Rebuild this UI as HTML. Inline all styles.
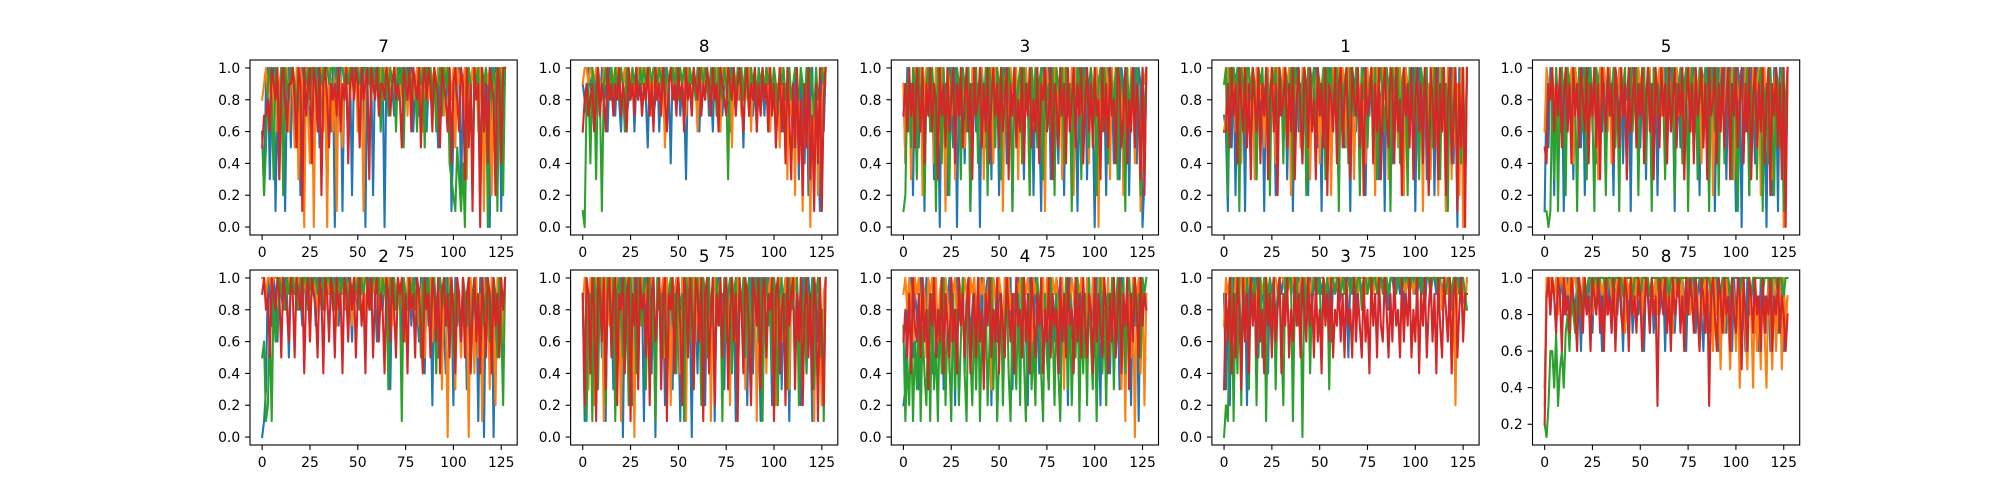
<!DOCTYPE html>
<html><head><meta charset="utf-8"><style>
html,body{margin:0;padding:0;background:#fff;}
svg{display:block;font-family:"DejaVu Sans","Liberation Sans",sans-serif;}
</style></head><body>
<svg id="fig" width="2000" height="500" viewBox="0 0 2000 500" xmlns="http://www.w3.org/2000/svg"></svg>
<script>
const titles = ['7','8','3','1','5','2','5','4','3','8'];
const xTicks = [0,25,50,75,100,125];
const yTicks = [0,0.2,0.4,0.6,0.8,1.0];
const colorNames = ['blue','orange','green','red'];

const p0_blue=[.6,.2,.9,1,.3,.9,1,.1,.8,.3,1,.9,.1,.9,1,.5,1,.9,.8,1,.2,1,.9,1,.8,.6,1,1,.9,1,.5,1,.9,.9,.1,1,.6,1,0,1,.7,1,.1,1,.9,.5,1,.2,1,.9,.8,1,.9,1,0,1,.9,1,.2,1,.9,1,.7,1,0,1,.8,1,.9,.7,1,.8,1,.9,1,.8,1,.9,1,.6,.9,1,.7,1,.9,1,.6,.9,1,.8,1,.9,.5,1,.9,1,.8,1,.9,.1,.6,1,.9,1,.2,.9,1,.8,1,.9,.3,1,.9,1,.2,1,.8,1,.9,0,1,.7,1,.9,1,.1,1,.9];
const p0_orange=[.8,.9,1,.8,.9,1,.7,1,.6,.9,1,.5,.9,1,.6,1,.9,.5,1,.3,1,.9,0,1,.7,.4,1,0,1,.8,.9,1,.6,1,0,1,.9,.6,1,.1,1,.9,.5,1,.9,1,.8,1,.9,1,.6,1,.9,.1,1,.9,1,.8,1,.9,1,.9,1,.8,1,.9,1,.8,.9,1,1,.9,.8,1,.9,1,.7,1,.9,1,.8,1,.9,1,.6,1,.9,.8,1,.9,1,.8,1,.9,1,.7,1,.9,1,.8,1,.5,1,.9,1,.8,1,.3,1,.9,1,.8,1,.6,1,.9,.1,1,.9,1,.2,1,.9,1,.8,1,.9,1];
const p0_green=[.6,.2,.5,.9,1,.8,.3,1,.9,.6,1,.2,1,.9,.8,1,1,.9,.7,1,.9,.3,1,.9,1,.8,1,.9,1,.7,1,.9,1,1,1,.9,1,1,1,.9,1,1,1,.9,1,.9,1,1,.9,1,1,.9,1,1,1,.9,1,.8,1,.9,1,1,.6,1,.9,1,.7,1,.9,1,.6,1,.9,1,.5,1,.9,1,.8,1,.9,.6,1,.9,1,.5,1,.9,1,.8,1,.6,.9,1,.7,1,.9,1,.4,.3,.2,.1,.5,.3,.1,.4,0,.7,1,.9,.2,1,.9,1,.1,1,.9,1,0,1,.8,1,.9,.1,1,.9,.2,1];
const p0_red=[.5,.7,.7,.8,.6,1,.9,.8,1,.3,.9,1,.8,.6,.9,.9,1,.8,.5,1,.9,.1,1,.7,.9,1,.4,1,.9,.6,1,.2,.9,1,.8,.5,.9,.8,.9,.7,1,.6,.9,.8,1,.4,.9,1,.8,1,.9,.5,1,.8,.9,1,.3,1,.9,.8,1,.7,.9,.9,.8,1,.9,.7,.9,1,.8,.9,.8,.5,1,.9,.8,1,.6,1,.9,.8,1,.5,.9,1,.8,1,.9,.6,1,.9,.8,.5,1,.9,.8,.6,1,.4,.9,1,.8,.6,1,.9,.3,1,.5,.9,.1,1,.8,.9,0,1,.6,.9,.4,1,.9,.8,.2,1,.9,.4,1,1];

const p1_blue=[.9,.8,.7,1,.9,.8,.6,1,.9,.7,1,.8,.9,.6,1,.8,.9,.7,1,.8,.6,.9,1,.7,.8,.9,1,.6,.9,.8,1,.7,.9,.8,.5,1,.9,.7,.8,1,.6,.9,.8,1,.7,.9,.4,1,.8,.9,1,.7,.9,.8,.3,1,.9,.7,1,.8,.9,.6,1,.9,.8,1,.7,.9,.6,1,.8,.9,1,.7,.9,1,.8,.6,1,.9,.7,1,.8,.9,.5,1,.9,.8,1,.7,.9,.6,1,.8,.9,.7,1,.6,.9,.8,1,.5,.9,.8,1,.6,.9,.4,1,.8,.5,1,.9,.3,1,.7,.4,1,.2,.8,1,.3,.9,.5,.1,1,.6,1];
const p1_orange=[.9,1,1,.9,1,1,.9,1,1,.9,.8,1,.9,1,.8,1,.9,1,1,.8,1,.9,1,.7,1,.9,1,.8,1,1,.9,1,.8,1,.9,1,.7,1,.9,1,.8,1,.9,.5,1,.9,1,.8,1,.9,1,.8,.9,1,.7,1,.9,.8,1,.9,.6,1,.9,1,.8,1,.9,.7,1,.9,1,.8,.6,1,.9,1,.8,1,.5,1,.9,.8,1,.7,.9,1,.8,1,.6,.9,1,.8,.9,.7,1,.9,.8,1,.6,.9,1,.7,.9,.5,1,.8,.9,.3,1,.7,.9,.2,1,.6,.8,.1,.9,.5,1,0,.8,.4,1,.2,.9,.6,1,.9];
const p1_green=[.1,0,.8,.9,.4,1,.9,.3,1,.8,.1,.9,1,.8,.9,1,.8,1,.9,.8,1,.9,.6,1,.9,.8,1,.9,1,.8,1,.9,1,.9,1,1,.9,1,1,.9,1,.9,1,.8,1,.9,1,1,.9,1,.8,1,.9,1,.9,.8,1,.9,1,.8,1,.9,1,.9,1,.9,.8,1,.9,1,.7,1,.9,.8,1,.9,.3,1,.9,1,.8,1,.9,1,.8,1,.9,.7,1,.9,1,.8,1,.9,1,.8,1,.9,1,.8,1,.9,.7,1,.9,1,.8,.9,1,.8,.9,1,.9,.8,1,.9,.7,1,.8,1,.9,.7,1,.8,.9,1,.9,1];
const p1_red=[.6,.8,.9,.7,.8,.9,.6,.8,1,.7,.9,.8,.6,1,.8,.9,.7,.9,.8,1,.7,.9,.8,.6,1,.8,.9,.7,1,.8,.9,.7,.9,.8,1,.7,.9,.6,1,.8,.9,.7,1,.8,.6,.9,1,.8,.9,.7,1,.8,.9,.6,1,.8,.9,.7,1,.9,.8,1,.7,.9,.8,1,.9,.7,1,.8,.9,.6,1,.9,.8,.7,1,.9,.8,1,.7,.9,1,.8,.6,.9,1,.7,.9,.8,1,.6,.9,.7,1,.8,.9,.6,1,.7,.9,.5,.8,1,.6,.9,.4,1,.7,.3,.9,.5,1,.4,.8,.2,.9,.5,1,.3,.7,.1,.9,.4,1,.1,.8,1];

const p2_blue=[.9,.4,1,.6,.9,.2,1,.8,.5,1,.9,.1,.9,1,.6,.9,.3,1,.8,0,1,.7,.9,.2,1,.8,.5,1,0,.9,.7,1,.4,.9,1,.1,.8,1,.6,.9,0,1,.8,.5,1,.9,.3,1,.7,1,.2,.9,.8,1,.4,1,.9,.1,1,.8,.6,1,.9,.3,1,.8,.5,1,.2,.9,1,.7,.1,1,.9,.6,1,.3,.9,1,.8,.4,1,.9,.2,1,.7,.9,.5,1,.8,.1,1,.9,.6,1,.3,.9,1,.7,0,1,.8,.5,1,.9,.2,1,.7,.9,.4,1,.8,.3,1,.9,.6,1,.2,.9,.8,1,.4,1,.9,0,.3,1];
const p2_orange=[.9,.4,.8,1,.3,.9,1,.5,.9,1,.2,.9,1,.7,.9,1,.4,1,.9,.6,1,.8,.1,1,.9,.7,1,.3,1,.9,.8,1,.5,1,.9,.2,1,.8,1,.6,.9,1,.3,.9,1,.8,1,.4,1,.9,.7,1,.1,.9,1,.5,1,.9,.8,1,.3,1,.9,.6,1,.8,.2,1,.9,.7,1,.4,1,.9,.1,1,.8,.9,.5,1,.9,.7,1,.3,1,.8,.9,.6,1,.2,1,.9,.8,1,.5,.9,1,.4,1,.9,.7,1,0,1,.8,.6,1,.9,.3,1,.8,1,.5,1,.9,.2,1,.8,.7,1,.9,.4,1,.8,.1,1,.9,1];
const p2_green=[.1,.2,.9,1,.5,1,.9,.3,1,.7,1,.2,.9,1,.6,1,.8,.1,1,.9,.4,1,.7,.9,.2,1,.8,.5,1,.9,.3,1,.9,.6,1,.1,.9,.8,1,.4,1,.9,.7,1,.2,1,.8,.9,.5,1,.9,.3,1,.8,.6,1,.9,.1,1,.7,.9,1,.4,1,.8,.9,.2,1,.7,1,.5,.9,1,.3,1,.8,.9,.6,1,.2,1,.9,.7,1,.4,1,.8,.9,.1,1,.6,1,.9,.3,1,.8,.9,.5,1,.7,1,.2,.9,1,.6,1,.8,.4,1,.9,.7,1,.3,1,.9,.8,.1,1,.7,.9,1,.5,1,.8,.2,1,.6,1];
const p2_red=[.7,.9,.6,1,.7,.9,.5,1,.8,.6,1,.4,.9,.7,1,.6,.9,.8,.3,1,.7,.9,.5,1,.6,.8,1,.4,.9,.7,1,.5,.8,1,.6,.9,.3,1,.7,.8,1,.5,.9,.6,1,.4,.8,1,.7,.9,.5,1,.6,.8,1,.3,.9,.7,1,.5,.8,.6,1,.4,.9,.7,1,.5,.8,.6,1,.4,.9,.8,1,.6,.7,1,.3,.9,.8,.5,1,.7,.9,.4,1,.6,.8,1,.5,.9,.7,1,.4,.8,1,.6,.9,.5,1,.7,.8,.3,1,.6,.9,.5,1,.7,.8,.4,1,.9,.5,.7,1,.4,.8,.6,1,.5,.9,.7,.3,1,.2,1];

const p3_blue=[.7,.6,.1,.9,.5,1,.2,.9,1,.6,.9,.1,1,.8,.4,1,.9,.3,1,.7,.9,.1,1,.8,.6,1,.9,.2,1,.7,.9,.5,1,.3,.9,1,.1,.8,1,.6,.9,.4,1,.8,.2,1,.9,.7,1,.5,.9,.1,1,.8,.6,1,.3,.9,1,.7,.2,1,.9,.5,1,.8,.1,1,.9,.6,1,.4,.8,1,.2,.9,.7,1,.5,.9,1,.3,.8,.9,.1,1,.7,.9,.4,1,.8,.6,1,.2,.9,1,.5,.9,.8,1,.1,.9,1,.6,.8,1,.3,.9,.7,1,.2,.9,1,.5,.8,1,.1,.9,.7,1,.4,.9,0,1,.8,.3,.2,1];
const p3_orange=[.6,.7,1,.8,1,.9,.6,1,.9,.4,1,.8,1,.6,.9,1,.3,1,.9,.8,1,.5,.9,1,.7,.9,1,.4,1,.9,.8,1,.6,.9,1,.2,1,.8,.9,1,.5,1,.9,.7,1,.3,.9,1,.8,1,.4,.9,1,.7,1,.9,.2,1,.8,.9,1,.6,1,.9,.5,1,.8,1,.3,.9,1,.7,1,.9,.4,1,.8,.9,1,.2,1,.9,.6,1,.8,.9,.3,1,.7,1,.9,.5,1,.8,.2,1,.9,.7,1,.4,.9,1,.6,.9,.1,1,.8,.9,.3,1,.7,.9,.2,1,.6,.8,.1,1,.9,.3,1,.5,.9,.2,1,0,.6,1];
const p3_green=[.9,1,.2,1,.8,1,.9,1,.1,1,.9,.6,1,1,.8,1,.9,.3,1,.9,1,.7,1,.9,.2,1,.9,1,.6,1,.9,.4,1,.9,.8,1,.3,1,.9,1,.6,.9,1,.2,1,.8,.9,1,.5,1,.9,.7,1,.3,1,.9,1,.6,.9,1,.1,1,.8,.9,1,.4,1,.9,.7,1,.9,.2,1,.8,1,.5,.9,1,.7,1,.3,.9,1,.8,.6,1,.9,.1,1,.9,.7,1,.4,.9,1,.8,.2,1,.9,.6,1,.8,.3,1,.9,.7,1,.2,.9,.5,1,.8,.9,.3,1,.7,.9,.1,1,.8,.6,1,.2,.9,.4,1,.3,1];
const p3_red=[.6,.6,.9,.5,1,.7,.9,.4,1,.8,.6,1,.5,.9,.3,1,.8,.6,1,.4,.9,.7,1,.3,.8,1,.6,.9,.2,1,.7,.8,1,.5,.9,.6,1,.3,.8,1,.7,.4,1,.9,.5,1,.6,.8,.3,1,.7,.9,.5,1,.2,.9,.8,.6,1,.4,.9,1,.5,.8,1,.6,.3,1,.8,.7,1,.5,.9,.2,1,.7,.8,1,.4,.9,.6,1,.3,.8,1,.7,.5,1,.9,.4,1,.6,.8,.2,1,.7,.9,.5,1,.3,.8,1,.6,.9,.4,1,.7,.2,1,.8,.5,1,.3,.9,.6,1,.2,.8,1,.4,.7,1,.1,.9,.5,1,0,1];

const p4_blue=[.1,.9,.5,1,.9,.2,1,.8,.6,1,.1,.9,1,.7,.9,.3,1,.8,.9,.5,1,.2,.9,1,.7,.8,1,.4,.9,1,.6,1,.3,.9,1,.8,.2,1,.9,.6,1,.4,.9,.8,1,.1,1,.9,.7,1,.5,.9,1,.3,1,.8,.9,.6,1,.2,.9,1,.7,1,.4,.9,1,.8,.1,1,.9,.5,1,.7,.9,.3,1,.8,1,.6,.9,.2,1,.9,.7,1,.4,.9,1,.1,.8,1,.6,.9,1,.3,.9,1,.5,.8,.1,1,.9,0,1,.6,.9,.2,1,.8,.4,1,.9,.3,1,.7,0,1,.8,.2,1,.9,.1,1,.6,.3,.2,1];
const p4_orange=[.6,1,.9,.8,1,.7,1,.5,.9,1,.8,1,.6,.9,1,.4,1,.9,.7,1,.8,1,.5,.9,1,.6,1,.9,.3,1,.8,1,.9,.6,1,.4,1,.9,.8,1,.7,.9,1,.3,1,.8,.9,1,.5,1,.9,.8,1,.6,.9,1,.2,1,.8,.9,1,.7,1,.4,.9,1,.8,.9,.5,1,.7,1,.9,.3,1,.8,1,.6,.9,1,.8,1,.4,.9,1,.7,.9,1,.2,1,.8,.6,1,.9,.5,1,.9,.7,1,.3,1,.8,.9,1,.5,1,.7,.9,.4,1,.8,.9,1,.2,.9,1,.6,.8,1,.3,.9,1,.5,.8,1,0,.3,1];
const p4_green=[.1,.1,0,.1,.9,.3,1,.1,.9,1,.8,.2,1,.9,.5,1,.8,.1,1,.9,.6,1,.3,.9,1,.7,.1,1,.9,.4,1,.8,.2,1,.9,.7,1,.5,.9,.1,1,.8,1,.3,.9,1,.6,.9,1,.2,.9,.8,1,.4,1,.9,.1,1,.7,.9,.5,1,.8,.3,1,.9,.6,1,.2,.9,.8,1,.4,.9,1,.1,.8,1,.7,.9,.3,1,.9,.5,1,.8,.1,1,.9,.6,1,.2,.9,1,.4,.8,1,.9,.3,1,.7,.1,.9,1,.5,.8,1,.2,.9,.6,1,.3,.9,1,.1,.8,.9,.4,1,.7,.2,1,.9,.5,1,.1,.8,1];
const p4_red=[.5,.4,.9,.8,1,.6,.9,.7,1,.5,.8,1,.6,.9,.4,1,.7,.9,.5,1,.8,.6,1,.4,.9,.7,1,.5,.9,.3,1,.8,.6,1,.7,.9,.4,1,.8,.5,1,.7,.9,.3,1,.6,.8,1,.5,.9,.7,1,.4,.8,1,.6,.9,.3,1,.8,.5,1,.7,.9,.4,1,.6,.8,1,.5,.9,.7,1,.3,.8,1,.6,.9,.4,1,.7,.8,1,.5,.9,.3,1,.7,.8,1,.4,.9,.6,1,.5,.8,1,.3,.9,.7,1,.5,.8,1,.4,.9,.6,1,.3,.8,1,.5,.9,.6,1,.4,.8,1,.2,.9,.7,1,.5,.9,.3,1,0,1];

const p5_blue=[0,.1,.3,1,.9,.7,1,.9,.6,1,.9,.8,1,.9,.5,1,.9,1,.8,1,.9,.7,1,.9,1,.8,.9,1,.7,1,.9,1,.8,1,.9,.9,1,.8,1,.9,.7,1,.9,1,.8,1,.9,.6,1,.9,.8,1,.9,1,.7,.9,1,.8,1,.9,.6,1,.9,.8,1,.9,.7,.3,1,.9,.8,1,.9,.6,1,.9,.8,1,.7,.9,1,.8,.6,1,.9,.4,1,.7,.9,.2,1,.8,.5,1,.9,.7,.4,1,.8,.9,.2,1,.7,.9,.5,1,.9,.3,1,.8,.6,1,.9,.1,1,.8,0,1,.9,.4,1,0,.8,.6,1,.9,.5,1];
const p5_orange=[1,1,.9,1,1,.9,1,1,1,.9,1,1,.8,1,1,.9,1,1,.9,1,.8,1,1,.9,1,.6,1,.9,1,.8,1,.9,1,.8,1,.9,1,1,.9,.7,1,.9,1,.8,1,.9,1,.7,.9,1,.8,1,.9,1,.7,1,.9,.8,1,.9,1,.8,1,.9,1,.8,1,.9,.7,1,.9,1,.8,1,.9,.6,1,.9,1,.8,.9,1,.7,.9,1,.5,.9,.8,1,.6,1,.4,.9,1,.3,1,.9,0,1,.7,.9,.3,1,.8,.5,1,.6,.9,0,1,.8,.4,1,.5,.9,.1,1,.7,.9,.3,1,.8,.2,1,.7,.9,.6,1];
const p5_green=[.5,.6,.1,.2,.7,.1,.9,.6,.7,1,.9,1,.8,1,.9,1,1,.9,1,.8,1,.9,1,1,.8,1,.9,1,1,.9,1,.8,1,.9,1,1,.9,1,.8,1,1,.9,1,.9,1,.8,1,.9,1,.9,1,.8,1,.9,1,1,.9,.8,1,1,.9,1,.8,1,.9,1,.3,1,.9,1,.8,1,.9,.1,1,.9,.8,1,.9,1,.8,1,.9,.5,1,.8,.9,1,.7,.9,1,.4,.9,1,.8,.9,1,.7,.9,1,.5,.9,1,.8,.6,1,.9,.7,1,.4,.9,1,.8,.9,.5,1,.7,.9,1,.6,.8,1,.9,.5,1,.7,.2,1];
const p5_red=[.9,1,.8,.9,.5,1,.9,.8,1,.9,.5,1,.9,.8,.6,1,.9,.5,1,.9,.8,1,.4,.9,1,.6,1,.9,.8,.5,1,.9,.4,1,.9,.6,1,.9,.5,1,.8,.9,.4,1,.9,.6,1,.8,1,.5,.9,1,.7,.9,.4,1,.8,1,.5,.9,1,.6,.9,.8,.4,1,.9,.6,1,.8,.5,1,.9,1,.6,.9,.4,1,.8,.9,.5,1,.9,.7,.4,1,.8,.9,.5,1,.9,.6,1,.4,.9,1,.7,.9,.5,1,.8,.4,1,.9,.6,1,.5,.9,1,.4,.8,1,.6,.9,.4,1,.8,.5,1,.9,.4,1,.7,.9,.5,1,.8,1];

const p6_blue=[.9,.1,1,.6,.9,.8,1,.2,.9,1,.5,.9,.1,1,.8,.9,.3,1,.9,.6,1,0,.9,1,.7,.9,.2,1,.8,.5,1,.9,.1,1,.8,.9,.4,1,0,.9,1,.6,.9,.2,1,.8,1,.3,.9,1,.7,.1,1,.9,.5,1,.8,0,1,.9,.4,1,.8,.9,.2,1,.9,.6,1,.1,.9,1,.7,.9,.3,1,.8,.5,1,.9,.1,1,.8,.9,.6,1,.2,.9,1,.4,.9,1,.7,.1,1,.9,.5,1,.8,.2,1,.9,.6,1,.3,.9,1,.8,.1,1,.9,.5,1,.7,.2,1,.9,.4,1,.8,.1,1,.9,.6,1,.3,.8,1];
const p6_orange=[.8,1,.9,.3,1,.9,.2,1,.8,.9,1,.1,1,.9,.7,1,.9,.4,1,.8,.1,1,.9,1,.6,.9,1,0,1,.9,.7,1,.8,.9,1,.3,1,.9,.1,1,.8,.9,1,.5,1,.9,.2,1,.8,1,.9,.4,1,.9,.1,1,.8,.9,1,.6,.9,1,.3,1,.9,.8,1,.1,.9,1,.7,.9,1,.4,1,.8,.9,.2,1,.9,.6,1,.9,.8,1,.3,.9,1,.5,.9,1,.1,1,.8,.9,1,.4,.9,1,.7,1,.2,.9,1,.6,.8,1,.9,.3,1,.8,1,.9,.5,1,.2,.9,1,.7,.8,1,.1,.9,1,.6,.2,.9,1];
const p6_green=[.9,.5,.1,.8,.9,.1,1,.9,.3,1,.7,.9,.2,1,.9,.6,1,.1,.9,1,.8,.5,1,.9,.2,1,.8,.9,.4,1,.9,.7,1,.3,.9,1,.6,.9,.1,1,.8,.9,.5,1,.2,.9,1,.7,.9,.4,1,.8,.9,.1,1,.9,.6,1,.3,.9,1,.8,.2,1,.9,.5,1,.7,.9,.3,1,.8,.9,.1,1,.6,.9,1,.4,.9,1,.2,.9,.8,1,.5,.9,1,.3,.8,1,.9,.6,1,.1,.9,1,.7,.9,.4,1,.8,.2,.9,1,.6,.9,.3,1,.8,.9,.5,1,.2,.9,.7,1,.4,.9,.8,1,.3,.9,1,.5,.8,.1,1];
const p6_red=[.9,.2,1,.9,.4,1,.8,.1,1,.9,.6,1,.3,.9,1,.5,.9,1,.2,.9,.8,1,.4,.9,1,.1,.9,.7,1,.3,1,.8,.9,.5,1,.2,.9,1,.6,.8,1,.3,.9,1,.1,.9,.8,1,.4,.9,1,.7,.2,1,.9,.5,1,.8,.3,1,.9,.6,1,.1,.9,1,.4,.8,1,.2,.9,.7,1,.5,.9,1,.3,.8,1,.6,.9,.1,1,.8,.4,1,.9,.6,.2,1,.9,.7,1,.3,.9,1,.5,.9,.8,1,.1,.9,1,.4,.8,.9,.2,1,.7,.9,1,.3,.9,.6,1,.2,.8,1,.5,.9,.3,1,.8,.1,1,.6,.2,1];

const p7_blue=[.2,.3,.9,.7,1,.5,.9,.8,.3,1,.9,.6,1,.7,.9,.4,1,.8,.5,.9,1,.3,.9,.8,1,.6,.9,.2,1,.8,.7,1,.4,.9,1,.6,.8,1,.3,.9,.7,1,.5,.9,1,.8,.2,1,.9,.6,1,.8,.4,1,.9,.7,1,.3,.9,.8,1,.5,.9,1,.7,.2,1,.9,.6,1,.8,.4,.9,1,.7,.9,.3,1,.8,.6,1,.9,.4,1,.7,.9,.2,1,.8,.6,1,.9,.5,1,.8,.9,.3,1,.7,.9,.5,1,.8,.2,1,.9,.6,1,.4,.9,1,.7,.9,.3,1,.8,.5,1,.9,.2,1,.7,.9,.1,1,.8,.9,.9];
const p7_orange=[.9,1,.8,1,.9,.6,1,.9,1,.7,1,.9,.5,1,.9,1,.8,1,.6,.9,1,.8,1,.9,.4,1,.9,1,.7,1,.9,.8,1,.9,.6,1,.9,1,.8,.5,1,.9,1,.7,.9,1,.3,1,.9,.8,1,.9,.6,1,.9,1,.8,.9,.5,1,.9,1,.7,1,.9,1,.8,.4,1,.9,1,.7,.9,1,.6,1,.9,.8,1,.9,1,.7,.9,1,.3,1,.9,.8,1,.9,.6,1,.9,1,.8,.5,1,.9,.7,1,.9,.4,1,.8,1,.9,.2,1,.7,.9,1,.6,.9,1,.3,.9,.1,1,.8,.5,1,0,.9,1,.4,1,.2,.9];
const p7_green=[.7,.1,.5,.2,.7,.1,.6,.3,.9,.1,.7,.4,.2,.8,.1,.9,.3,.6,.1,.8,.4,1,.2,.7,.5,.1,.9,.3,.8,.2,.6,1,.4,.1,.9,.5,.2,.8,.3,1,.1,.7,.4,.9,.2,.6,1,.3,.8,.1,.5,.9,.2,.7,1,.4,.1,.8,.6,.3,.9,.2,1,.5,.1,.7,.9,.3,.6,.2,1,.8,.4,.1,.9,.5,.3,1,.7,.2,.9,.4,.1,.8,.6,1,.3,.9,.2,.7,.5,1,.1,.8,.4,.9,.2,1,.6,.3,.9,.1,.7,1,.4,.8,.2,.9,.5,1,.3,.8,1,.6,.9,1,.4,.9,1,.8,.9,1,.7,.9,.5,1,.9,1];
const p7_red=[.6,.8,.5,.9,.4,1,.7,.6,.9,.5,1,.6,.8,.3,.9,.7,1,.5,.8,.6,1,.4,.9,.7,.5,1,.6,.8,.4,1,.7,.9,.5,.8,1,.4,.7,.9,.5,1,.6,.8,.3,.9,.7,1,.5,.8,.6,1,.4,.9,.7,.5,1,.8,.6,.9,.4,1,.7,.8,.5,1,.6,.9,.4,1,.8,.5,.9,.7,1,.4,.8,.6,1,.5,.9,.7,.8,.4,1,.6,.9,.5,1,.7,.8,.4,1,.6,.9,.5,1,.7,.5,.9,.8,.4,1,.6,.9,.7,.5,1,.8,.4,.9,.6,1,.5,.8,1,.4,.9,.7,1,.3,.9,.6,1,.8,.5,1,.7,.9,.8];

const p8_blue=[.9,.3,.8,.2,.9,1,.6,1,.9,.5,1,.9,.2,1,.8,1,.9,1,.5,1,.9,.8,1,.4,1,.9,1,.7,.9,1,.9,1,1,.9,1,.9,1,.8,1,1,.9,1,.7,1,.9,1,.8,1,.9,1,1,.9,1,.8,1,.9,.6,1,.9,1,.8,.9,1,1,.9,.5,1,.9,1,.8,1,1,.9,1,1,.9,1,1,.9,1,1,.9,1,1,.9,1,.8,1,1,.9,1,1,.9,1,.8,1,1,.9,1,1,.9,1,1,.9,1,.8,1,1,.9,1,1,.9,1,1,.9,1,1,.9,1,.8,1,1,.9,1,1,.9,.8,1];
const p8_orange=[.7,1,.9,1,1,.7,1,.9,1,1,.8,1,.9,1,1,.9,1,.8,1,1,.9,1,1,.9,1,.7,1,1,.9,1,1,1,.9,1,1,.9,1,1,1,.9,1,1,.9,1,1,.9,1,1,1,.9,1,1,1,.9,1,1,.9,1,1,1,.9,1,1,.9,1,1,.9,1,1,1,.9,1,1,1,.9,1,1,1,.9,1,1,.9,1,1,1,1,.9,1,1,1,.9,1,1,1,1,.9,1,1,1,.9,1,1,1,1,.9,1,1,1,.9,1,1,1,.9,1,.8,1,1,.9,1,.4,1,.2,1,.9,1,1,.8,1];
const p8_green=[0,.2,.1,.8,1,.1,.9,.4,1,.2,.9,.6,1,.3,1,.8,1,.2,.9,1,.5,1,.1,.9,1,.7,1,.3,.9,1,.6,.2,1,.9,1,1,.1,.9,1,.7,.9,0,1,.8,1,.4,.9,1,1,.9,1,.5,1,.9,1,.3,1,1,.9,1,1,.9,1,.9,1,1,.9,1,1,.9,1,1,.8,1,1,.9,1,.9,1,1,.9,1,1,.9,1,1,.9,1,1,1,.9,1,1,.9,1,1,1,.9,1,1,1,.9,1,1,.9,1,1,1,.9,1,1,1,.9,1,1,1,.9,1,1,.9,1,1,1,.9,1,1,.9,.8];
const p8_red=[.3,.9,.6,1,.4,.9,.5,1,.8,.3,1,.6,.9,.4,1,.7,.9,.5,1,.6,.8,.4,1,.7,.9,.5,1,.6,.8,1,.4,.9,.7,1,.5,.8,.6,1,.7,.9,.5,1,.8,.6,1,.7,.9,.5,1,.6,.8,.4,1,.7,.9,.6,1,.5,.8,.7,1,.6,.9,.5,1,.7,.8,.5,1,.6,.9,.7,.5,1,.6,.8,.4,1,.7,.9,.5,1,.7,.6,1,.8,.5,.9,.6,1,.7,.8,.5,1,.6,.9,.7,1,.5,.8,.6,1,.4,.9,.7,1,.5,.8,1,.6,.9,.4,1,.7,.5,1,.8,.6,1,.4,.9,1,.5,.8,1,.6,.9,.9];

const p9_blue=[.4,.9,1,.8,1,.9,.7,1,.9,1,.8,.9,1,.7,1,.9,.8,1,.9,.6,1,.9,.8,1,.9,.7,1,.8,1,.9,.6,1,.9,.8,1,.7,1,.9,.8,1,.9,.6,1,.9,.8,1,.7,.9,1,.8,.9,1,.6,1,.9,.8,1,.7,.9,1,.8,.9,1,.6,1,.9,.8,1,.7,.9,1,.8,1,.9,.6,1,.8,.9,1,.7,.9,1,.8,.6,1,.9,.7,1,.8,.9,1,.6,.9,1,.8,.7,1,.9,.6,1,.8,.9,1,.7,.9,.6,1,.8,.9,1,.7,.9,.6,1,.8,.9,.7,1,.6,.9,1,.8,.7,1,.9,.6,.8,.9];
const p9_orange=[.3,1,.9,1,1,.9,1,.8,1,1,.9,1,.9,1,.8,1,1,.9,1,.8,1,1,.9,1,1,.8,1,.9,1,1,.9,1,.8,1,1,.9,1,.8,1,1,.9,1,.7,1,.9,1,1,.8,1,.9,1,.8,1,1,.9,.7,1,.9,1,.8,1,.9,1,1,.8,1,.9,.7,1,.9,1,.8,1,.6,1,.9,.8,1,.7,1,.9,.6,1,.8,1,.7,.9,1,.6,1,.8,.9,.5,1,.7,1,.8,.5,1,.9,.6,1,.4,.9,1,.7,.5,1,.8,.4,1,.6,.9,.5,1,.7,.4,1,.8,.5,1,.6,.9,1,.5,1,.7,.9];
const p9_green=[.2,.13,.3,.6,.6,.4,.7,.3,.5,.6,.4,.7,.8,.6,.9,.8,.7,.9,1,.8,.9,1,.9,1,1,.9,1,1,.9,1,1,1,.9,1,1,1,.9,1,1,1,1,.9,1,1,1,1,.9,1,1,1,.9,1,1,1,1,.9,1,1,1,1,.9,1,1,1,1,.9,1,1,1,1,.9,1,1,1,1,1,.9,1,1,1,1,1,.9,1,1,1,1,.9,1,1,1,1,.9,1,1,1,1,.9,1,1,1,1,.9,1,1,1,1,1,.9,1,1,1,1,1,.9,1,1,1,.9,1,1,1,.9,1,1,.9,1,1];
const p9_red=[.2,.9,1,.8,1,.9,.7,1,.9,.6,1,.8,.9,.7,1,.9,.8,.6,1,.9,.7,1,.8,.9,.6,1,.9,.8,1,.7,.9,.6,1,.8,.9,.7,1,.6,.9,1,.8,.7,1,.9,.6,1,.8,.9,.7,1,.9,.6,.8,1,.9,.7,1,.8,.9,.3,1,.9,.8,1,.7,.9,.6,1,.8,.9,1,.7,.9,.6,1,.8,1,.9,.7,1,.8,.6,1,.9,.7,1,.3,.9,1,.8,.6,1,.9,.7,1,.8,.9,.6,1,.8,.7,1,.9,.5,1,.8,.6,1,.9,.7,1,.8,.9,.6,1,.7,.9,.8,1,.6,.9,.8,1,.7,.9,.8,.6,.8];

const panels = [
  [p0_blue,p0_orange,p0_green,p0_red],
  [p1_blue,p1_orange,p1_green,p1_red],
  [p2_blue,p2_orange,p2_green,p2_red],
  [p3_blue,p3_orange,p3_green,p3_red],
  [p4_blue,p4_orange,p4_green,p4_red],
  [p5_blue,p5_orange,p5_green,p5_red],
  [p6_blue,p6_orange,p6_green,p6_red],
  [p7_blue,p7_orange,p7_green,p7_red],
  [p8_blue,p8_orange,p8_green,p8_red],
  [p9_blue,p9_orange,p9_green,p9_red]
];

(function(){
  const NS = 'http://www.w3.org/2000/svg';
  const svg = document.getElementById('fig');
  const colors = ['#1f77b4','#ff7f0e','#2ca02c','#d62728'];
  const colLefts = [250, 570.6, 891.3, 1211.9, 1532.5];
  const rowTops = [60, 270];
  const W = 267.2, H = 175;
  function mk(tag, attrs, parent){
    const e = document.createElementNS(NS, tag);
    for (const k in attrs) e.setAttribute(k, attrs[k]);
    (parent||svg).appendChild(e);
    return e;
  }
  const defs = mk('defs', {});
  panels.forEach((series, p) => {
    const left = colLefts[p % 5], top = rowTops[Math.floor(p / 5)];
    let n = 0, mn = Infinity, mx = -Infinity;
    series.forEach(s => { n = Math.max(n, s.length); s.forEach(v => { if (v < mn) mn = v; if (v > mx) mx = v; }); });
    const xmin = -(n-1)*0.05, xmax = (n-1)*1.05;
    const pad = (mx - mn) * 0.05, ymin = mn - pad, ymax = mx + pad;
    const sx = v => left + (v - xmin) / (xmax - xmin) * W;
    const sy = v => top + (ymax - v) / (ymax - ymin) * H;

    const g = mk('g', {});
    
    

    const cp = mk('clipPath', {id: 'clip' + p}, defs);
    mk('rect', {x: left, y: top, width: W, height: H}, cp);

    const lines = mk('g', {'clip-path': 'url(#clip' + p + ')'}, g);
    series.forEach((s, k) => {
      const d = s.map((v, i) => (i ? 'L' : 'M') + sx(i).toFixed(2) + ' ' + sy(v).toFixed(2)).join('');
      const path = mk('path', {d: d, fill: 'none', stroke: colors[k], 'stroke-width': 2.08, 'stroke-linejoin': 'round', 'stroke-linecap': 'square'}, lines);
      
      
    });

    const frame = mk('rect', {x: left, y: top, width: W, height: H, fill: 'none', stroke: '#000', 'stroke-width': 1.1}, g);
    
    

    const xt = mk('g', {}, g);
    
    
    xTicks.forEach(t => {
      if (t < xmin || t > xmax) return;
      const x = sx(t);
      mk('line', {x1: x, x2: x, y1: top + H, y2: top + H + 4.9, stroke: '#000', 'stroke-width': 1.1}, xt);
      const tx = mk('text', {x: x, y: top + H + 22, 'text-anchor': 'middle', 'font-size': 13.9, fill: '#000'}, xt);
      tx.textContent = String(t);
      
      
    });
    const yt = mk('g', {}, g);
    
    
    yTicks.forEach(t => {
      if (t < ymin - 1e-9 || t > ymax + 1e-9) return;
      const y = sy(t);
      mk('line', {x1: left - 4.9, x2: left, y1: y, y2: y, stroke: '#000', 'stroke-width': 1.1}, yt);
      const tx = mk('text', {x: left - 9.8, y: y + 5, 'text-anchor': 'end', 'font-size': 13.9, fill: '#000'}, yt);
      tx.textContent = t.toFixed(1);
      
      
    });
    const title = mk('text', {x: left + W/2, y: top - 8, 'text-anchor': 'middle', 'font-size': 16.7, fill: '#000'}, g);
    title.textContent = titles[p];
    
    
  });
})();
</script>
</body></html>
